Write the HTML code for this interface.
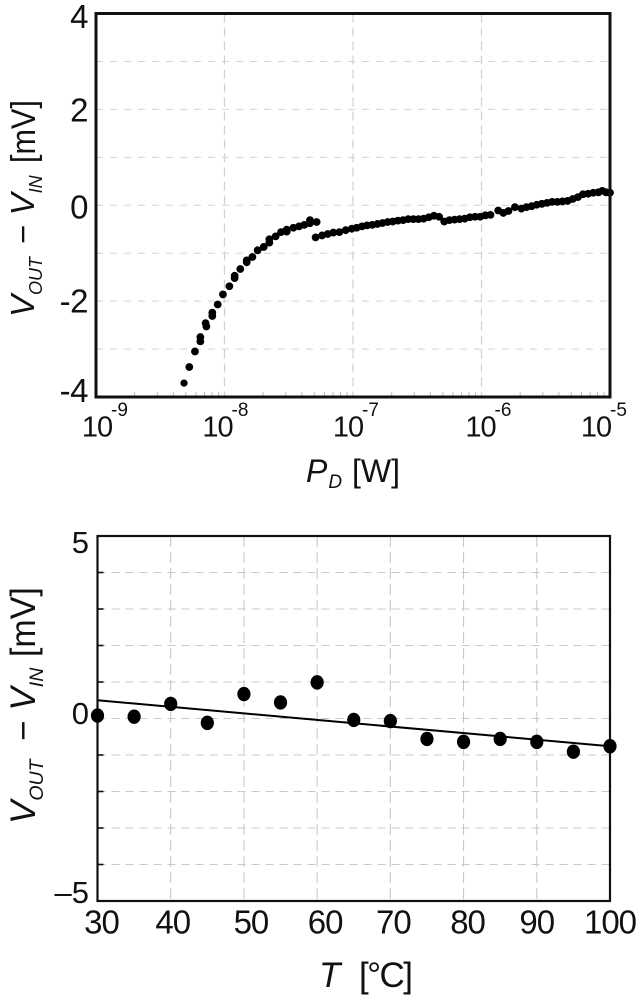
<!DOCTYPE html>
<html lang="en">
<head>
<meta charset="utf-8">
<title>VOUT - VIN charts</title>
<style>
html,body{margin:0;padding:0;background:#fff;}
svg{display:block;font-family:"Liberation Sans",sans-serif;fill:#111;}
</style>
</head>
<body>
<svg id="fig" width="643" height="1000" viewBox="0 0 643 1000" xmlns="http://www.w3.org/2000/svg">
  <g id="top-chart"></g>
  <g id="bottom-chart"></g>
  <text x="306" y="482" font-size="32"><tspan font-style="italic">P</tspan><tspan font-style="italic" font-size="19" dy="6" dx="1">D</tspan><tspan dy="-6" x="352">[W]</tspan></text>
  <text x="319" y="987" font-size="35"><tspan font-style="italic">T</tspan><tspan x="359" letter-spacing="-1.6">[°C]</tspan></text>
  <text transform="translate(34,317) rotate(-90)" font-size="33" xml:space="preserve"><tspan font-style="italic">V</tspan><tspan font-style="italic" font-size="18" dy="8">OUT</tspan><tspan dy="-8" dx="4"> − </tspan><tspan font-style="italic">V</tspan><tspan font-style="italic" font-size="18" dy="8">IN</tspan></text>
  <text transform="translate(35,163) rotate(-90) scale(0.9,1)" font-size="34">[mV]</text>
  <text transform="translate(35,824) rotate(-90)" font-size="35" xml:space="preserve"><tspan font-style="italic">V</tspan><tspan font-style="italic" font-size="19.5" dy="8">OUT</tspan><tspan dy="-8" dx="9"> − </tspan><tspan font-style="italic">V</tspan><tspan font-style="italic" font-size="19.5" dy="8">IN</tspan></text>
  <text transform="translate(35,657) rotate(-90) scale(0.97,1)" font-size="35">[mV]</text>
</svg>
<script>
// ---- Top chart data: log10 of dissipated power [W] and offset [mV]
const powerExp = [-8.315,-8.274,-8.23,-8.188,-8.188,-8.141,-8.147,-8.095,-8.095,-8.053,-8.012,-7.962,-7.921,-7.921,-7.877,-7.827,-7.827,-7.783,-7.742,-7.695,-7.651,-7.651,-7.602,-7.56,-7.516,-7.516,-7.464,-7.42,-7.379,-7.335,-7.335,-7.283,
-7.291,-7.241,-7.197,-7.153,-7.106,-7.057,-7.01,-6.971,-6.93,-6.89,-6.85,-6.81,-6.77,-6.73,-6.69,-6.65,-6.61,-6.57,-6.53,-6.49,-6.45,-6.41,-6.37,-6.33,-6.29,-6.25,-6.21,-6.17,-6.13,-6.09,-6.05,-6.01,-5.97,-5.93,-5.87,-5.83,-5.79,-5.74,-5.69,-5.65,-5.61,-5.57,-5.53,-5.49,-5.45,-5.41,-5.37,-5.33,-5.29,-5.25,-5.21,-5.17,-5.13,-5.09,-5.06,-5.03,-5.0];
const powerOffset = [-3.71,-3.375,-3.05,-2.84,-2.75,-2.53,-2.46,-2.31,-2.24,-2.07,-1.86,-1.69,-1.52,-1.47,-1.33,-1.19,-1.15,-1.08,-0.94,-0.87,-0.78,-0.71,-0.65,-0.56,-0.55,-0.51,-0.47,-0.44,-0.41,-0.375,-0.31,-0.35,
-0.67,-0.63,-0.6,-0.57,-0.56,-0.52,-0.49,-0.47,-0.44,-0.42,-0.41,-0.39,-0.37,-0.35,-0.34,-0.32,-0.31,-0.29,-0.29,-0.29,-0.28,-0.25,-0.22,-0.24,-0.34,-0.31,-0.3,-0.29,-0.28,-0.25,-0.24,-0.24,-0.21,-0.2,-0.11,-0.16,-0.12,-0.04,-0.07,-0.04,-0.02,0.01,0.03,0.05,0.07,0.07,0.08,0.09,0.13,0.17,0.23,0.24,0.26,0.27,0.3,0.27,0.26];
const powerDecades = [-9,-8,-7,-6,-5];
const powerDecadeLabels = ['-9','-8','-7','-6','-5'];
const minorMultiples = [2,3,4,5,6,7,8,9];
const powerYTicks = [4,2,0,-2,-4];
const powerYTickLabels = ['4','2','0','-2','-4'];
const powerYGrid = [3,2,1,0,-1,-2,-3];

// ---- Bottom chart data: temperature [C] and offset [mV]
const tempValues = [30,35,40,45,50,55,60,65,70,75,80,85,90,95,100];
const tempOffset = [0.08,0.05,0.4,-0.12,0.67,0.44,0.99,-0.04,-0.07,-0.56,-0.64,-0.56,-0.64,-0.91,-0.76];
const fitTemps = [30,100];
const fitOffset = [0.5,-0.76];
const tempXTicks = [30,40,50,60,70,80,90,100];
const tempXTickLabels = ['30','40','50','60','70','80','90','100'];
const tempYTicks = [5,0,-5];
const tempYTickLabels = ['5','0','–5'];
const tempYGrid = [4,3,2,1,0,-1,-2,-3,-4];

// ---- Layout and axis functions
const NS = 'http://www.w3.org/2000/svg';
const topBox = {l:96, r:610, t:13.5, b:397};
const botBox = {l:97.5, r:610, t:536, b:901};
const xPower = e => topBox.l + (e + 9) * (topBox.r - topBox.l) / 4;
const yPower = v => topBox.t + (4 - v) * (topBox.b - topBox.t) / 8;
const xTemp = t => botBox.l + (t - 30) * (botBox.r - botBox.l) / 70;
const yTemp = v => botBox.t + (5 - v) * (botBox.b - botBox.t) / 10;

// hand-placement nudges of the printed labels relative to their ticks
const powerLabelNudge = [1,-7,-5,-1,-14];
const powerYLabelNudge = [14.5,12,13,11.5,5];
const tempLabelNudge = [4,2,7,8,3,4,0,0];
const tempYLabelNudge = [17,5.5,2];

function mk(tag, parent, attrs, text) {
  const el = document.createElementNS(NS, tag);
  for (const k in attrs) el.setAttribute(k, attrs[k]);
  if (text !== undefined) el.textContent = text;
  parent.appendChild(el);
  return el;
}
const topG = document.getElementById('top-chart');
const botG = document.getElementById('bottom-chart');

// ---- Top chart
powerYGrid.forEach(v => {
  const el = mk('line', topG, {x1:topBox.l, x2:topBox.r, y1:yPower(v), y2:yPower(v), stroke:'#d4d4d4', 'stroke-width':1, 'stroke-dasharray':'7 7'});
  
  
});
powerDecades.forEach((d, i) => {
  if (i > 0 && i < powerDecades.length - 1) {
    const g = mk('line', topG, {x1:xPower(d), x2:xPower(d), y1:topBox.t, y2:topBox.b, stroke:'#d0d0d0', 'stroke-width':1.2, 'stroke-dasharray':'9 5'});
    
    
  }
  if (i < powerDecades.length - 1) {
    minorMultiples.forEach(m => {
      const x = xPower(d + Math.log10(m));
      const t = mk('line', topG, {x1:x, x2:x, y1:topBox.b - 5, y2:topBox.b, stroke:'#bbb', 'stroke-width':1});
      
      
    });
  }
  const label = mk('text', topG, {x:xPower(d) + powerLabelNudge[i], y:436.5, 'font-size':29, 'text-anchor':'middle', 'letter-spacing':'-1'}, '10');
  
  
  const sup = mk('text', topG, {x:xPower(d) + powerLabelNudge[i] + 14, y:416, 'font-size':19}, powerDecadeLabels[i]);
  
  
});
powerYTicks.forEach((v, i) => {
  const label = mk('text', topG, {x:88, y:yPower(v) + powerYLabelNudge[i], 'font-size':33, 'text-anchor':'end', 'letter-spacing':'-0.5'}, powerYTickLabels[i]);
  
  
});
powerExp.forEach((e, i) => {
  const c = mk('circle', topG, {cx:xPower(e), cy:yPower(powerOffset[i]), r:i === 0 ? 3.6 : 3.9, fill:'#000'});
  
  
});
const topFrame = mk('rect', topG, {x:topBox.l, y:topBox.t, width:topBox.r - topBox.l, height:topBox.b - topBox.t, fill:'none', stroke:'#111', 'stroke-width':3});



// ---- Bottom chart
tempYGrid.forEach(v => {
  const el = mk('line', botG, {x1:botBox.l, x2:botBox.r, y1:yTemp(v), y2:yTemp(v), stroke:'#c8c8c8', 'stroke-width':1.1, 'stroke-dasharray':'8 6'});
  
  
  const t = mk('line', botG, {x1:botBox.l, x2:botBox.l + 6, y1:yTemp(v), y2:yTemp(v), stroke:'#111', 'stroke-width':1.6});
  
  
});
tempXTicks.forEach((t, i) => {
  if (i > 0 && i < tempXTicks.length - 1) {
    const g = mk('line', botG, {x1:xTemp(t), x2:xTemp(t), y1:botBox.t, y2:botBox.b, stroke:'#c4c4c4', 'stroke-width':1, 'stroke-dasharray':'11 5'});
    
    
  }
  const label = mk('text', botG, {x:xTemp(t) + tempLabelNudge[i], y:933.5, 'font-size':33, 'text-anchor':'middle', 'letter-spacing':'-1'}, tempXTickLabels[i]);
  
  
});
tempYTicks.forEach((v, i) => {
  const label = mk('text', botG, {x:89, y:yTemp(v) + tempYLabelNudge[i], 'font-size':31, 'text-anchor':'end'}, tempYTickLabels[i]);
  
  
});
const fit = mk('line', botG, {x1:xTemp(fitTemps[0]), y1:yTemp(fitOffset[0]), x2:xTemp(fitTemps[1]), y2:yTemp(fitOffset[1]), stroke:'#000', 'stroke-width':2});


const botFrame = mk('rect', botG, {x:botBox.l, y:botBox.t, width:botBox.r - botBox.l, height:botBox.b - botBox.t, fill:'none', stroke:'#111', 'stroke-width':2.2});


tempValues.forEach((t, i) => {
  const c = mk('ellipse', botG, {cx:xTemp(t), cy:yTemp(tempOffset[i]), rx:6.6, ry:7.2, fill:'#000'});
  
  
});
</script>
</body>
</html>
